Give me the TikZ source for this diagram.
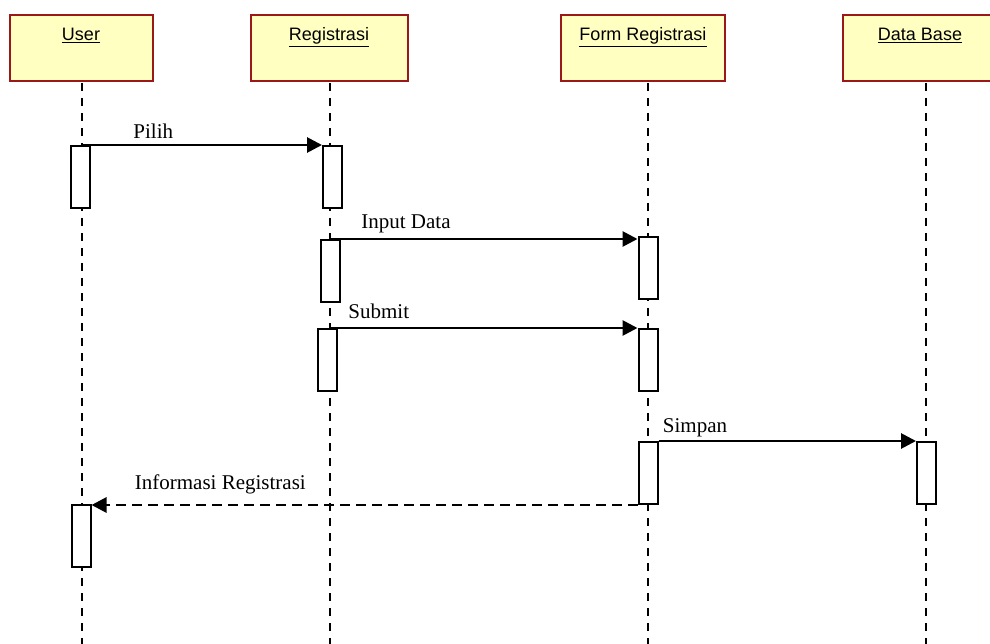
\documentclass[tikz,border=0pt]{standalone}
\usepackage{fontspec}
\setmainfont{Liberation Serif}
\newfontfamily\headfont{Liberation Sans}
\usetikzlibrary{arrows.meta,calc}
\definecolor{headfill}{RGB}{255,255,194}
\definecolor{headline}{RGB}{155,24,24}

\begin{document}
\begin{tikzpicture}[x=1pt,y=-1pt,
  head/.style={draw=headline, fill=headfill, line width=2pt,
    minimum width=#1, minimum height=66pt, anchor=north west, inner sep=0pt},
  htext/.style={anchor=base, inner sep=0pt, font=\headfont\fontsize{18}{21}\selectfont},
  life/.style={line width=2.2pt, dash pattern=on 8pt off 7pt},
  act/.style={draw, fill=white, line width=2pt, minimum width=19pt,
    minimum height=62pt, anchor=north, inner sep=0pt},
  msg/.style={line width=2.8pt, -{Triangle[length=15pt,width=15pt]}},
  ret/.style={msg, dash pattern=on 10pt off 6pt},
  lbl/.style={anchor=base west, inner sep=0pt, font=\fontsize{21}{25}\selectfont}
]
\useasboundingbox (0,0) rectangle (990,644);

% participants
\node[head=143pt] (user) at (9,14) {};
\node[head=157pt] (reg)  at (250,14) {};
\node[head=164pt] (form) at (560,14) {};
\node[head=150pt] (db)   at (842,14) {};
\node[htext] (userT) at (81,41)  {\underline{User}};
\node[htext] (regT)  at (329,41) {\underline{Registrasi}};
\node[htext] (formT) at (643,41) {\underline{Form Registrasi}};
\node[htext] (dbT)   at (920,41) {\underline{Data Base}};

% lifelines
\coordinate (uTop) at (82,83);  \coordinate (uEnd) at (82,644);
\coordinate (rTop) at (330,83); \coordinate (rEnd) at (330,644);
\coordinate (fTop) at (648,83); \coordinate (fEnd) at (648,644);
\coordinate (dTop) at (926,83); \coordinate (dEnd) at (926,644);
\foreach \a/\b in {uTop/uEnd, rTop/rEnd, fTop/fEnd, dTop/dEnd}
  \draw[life] (\a) -- (\b);

% activations
\node[act] (ua1) at (80.5,145) {};
\node[act] (ra1) at (332.5,145) {};
\node[act] (ra2) at (330.5,239) {};
\node[act] (fa1) at (648,236) {};
\node[act] (ra3) at (327.5,328) {};
\node[act] (fa2) at (648,328) {};
\node[act] (fa3) at (648,441) {};
\node[act] (da1) at (926.5,441) {};
\node[act] (ua2) at (81,504) {};

% messages
\draw[msg] (ua1.north -| uTop) -- (ra1.north west)
  node[lbl, pos=0, xshift=50pt, yshift=6pt] (pilihL) {Pilih};
\draw[msg] (ra2.north -| rTop) -- (ra2.north -| fa1.west)
  node[lbl, pos=0, xshift=30pt, yshift=10pt] (inputL) {Input Data};
\draw[msg] (ra3.north -| rTop) -- (fa2.north west)
  node[lbl, pos=0, xshift=17pt, yshift=10pt] (submitL) {Submit};
\draw[msg] (fa3.north east) -- (da1.north west)
  node[lbl, pos=0, xshift=3pt, yshift=9pt] (simpanL) {Simpan};
\draw[ret] (fa3.south west) -- (fa3.south west -| ua2.east)
  node[lbl, pos=1, xshift=42pt, yshift=16pt] (infoL) {Informasi Registrasi};
\end{tikzpicture}
\end{document}
